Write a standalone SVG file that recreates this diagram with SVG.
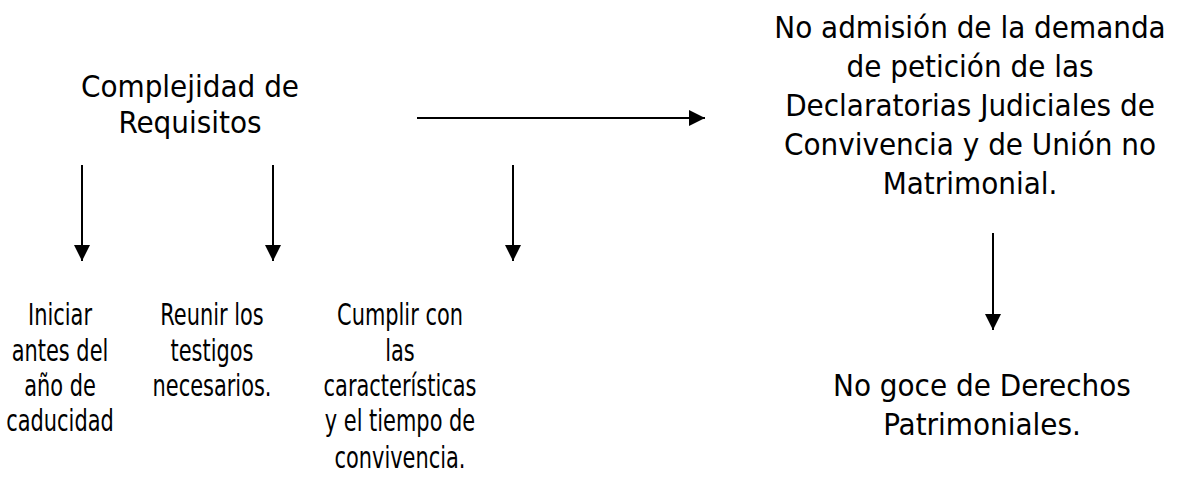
<svg xmlns="http://www.w3.org/2000/svg" width="1180" height="483" viewBox="0 0 1180 483">
<defs>
<style>
text{font-family:"DejaVu Sans Condensed","DejaVu Sans",sans-serif;font-size:31px;fill:#000;text-anchor:middle}
.c{stroke:#000;stroke-width:2;fill:none}
</style>
<marker id="ah" viewBox="0 0 16 16" refX="16" refY="8" markerWidth="16" markerHeight="16" markerUnits="userSpaceOnUse" orient="auto">
<path d="M0,0 L16,8 L0,16 Z" fill="#000"/>
</marker>
</defs>
<rect width="1180" height="483" fill="#fff"/>
<g id="connectors">
<line class="c" x1="417" y1="118" x2="705" y2="118" marker-end="url(#ah)"/>
<line class="c" x1="82" y1="165" x2="82" y2="261" marker-end="url(#ah)"/>
<line class="c" x1="273" y1="165" x2="273" y2="261" marker-end="url(#ah)"/>
<line class="c" x1="513" y1="165" x2="513" y2="261" marker-end="url(#ah)"/>
<line class="c" x1="993" y1="233" x2="993" y2="330" marker-end="url(#ah)"/>
</g>
<g id="n-complejidad">
<text x="190" y="97">Complejidad de</text>
<text x="190" y="133">Requisitos</text>
</g>
<g id="n-no-admision">
<text x="970" y="38">No admisión de la demanda</text>
<text x="970" y="77">de petición de las</text>
<text x="970" y="116">Declaratorias Judiciales de</text>
<text x="970" y="155">Convivencia y de Unión no</text>
<text x="970" y="194">Matrimonial.</text>
</g>
<g id="n-no-goce">
<text x="982" y="396">No goce de Derechos</text>
<text x="982" y="435">Patrimoniales.</text>
</g>
<g id="n-iniciar" transform="translate(60,0) scale(0.75,1)">
<text x="0" y="325">Iniciar</text>
<text x="0" y="361">antes del</text>
<text x="0" y="396">año de</text>
<text x="0" y="431">caducidad</text>
</g>
<g id="n-reunir" transform="translate(212,0) scale(0.75,1)">
<text x="0" y="325">Reunir los</text>
<text x="0" y="361">testigos</text>
<text x="0" y="396">necesarios.</text>
</g>
<g id="n-cumplir" transform="translate(400,0) scale(0.75,1)">
<text x="0" y="325">Cumplir con</text>
<text x="0" y="361">las</text>
<text x="0" y="396">características</text>
<text x="0" y="431">y el tiempo de</text>
<text x="0" y="468">convivencia.</text>
</g>
</svg>
